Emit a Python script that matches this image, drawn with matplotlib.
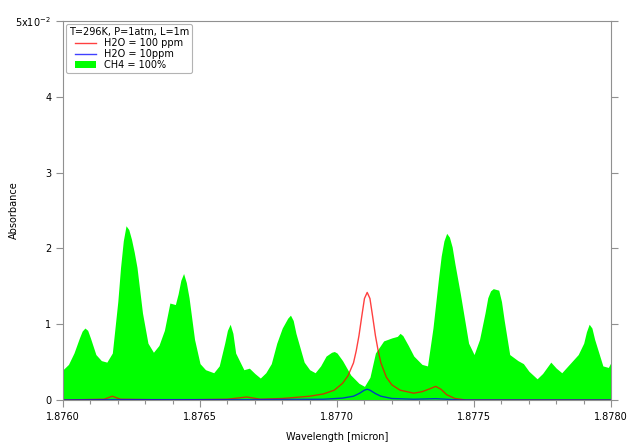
import matplotlib
matplotlib.use("Agg")
import matplotlib.pyplot as plt
from matplotlib.ticker import MultipleLocator

# absorbance values in units of 1e-2
ch4_wl = [1.87600, 1.87602, 1.87604, 1.87606, 1.87607, 1.87608, 1.87609, 1.87610,
          1.87612, 1.87614, 1.87616, 1.87618, 1.87620, 1.87621, 1.87622, 1.87623,
          1.87624, 1.87625, 1.87626, 1.87627, 1.87629, 1.87631, 1.87633, 1.87635,
          1.87637, 1.87639, 1.87641, 1.87642, 1.87643, 1.87644, 1.87645, 1.87646,
          1.87648, 1.87650, 1.87652, 1.87655, 1.87657, 1.87659, 1.87660, 1.87661,
          1.87662, 1.87663, 1.87666, 1.87668, 1.87670, 1.87672, 1.87674, 1.87676,
          1.87678, 1.87680, 1.87682, 1.87683, 1.87684, 1.87685, 1.87688, 1.87690,
          1.87692, 1.87694, 1.87696, 1.87698, 1.87699, 1.87700, 1.87702, 1.87705,
          1.87708, 1.87710, 1.87712, 1.87714, 1.87717, 1.87720, 1.87722, 1.87723,
          1.87724, 1.87726, 1.87728, 1.87731, 1.87733, 1.87735, 1.87737, 1.87738,
          1.87739, 1.87740, 1.87741, 1.87742, 1.87743, 1.87745, 1.87748, 1.87750,
          1.87752, 1.87754, 1.87755, 1.87756, 1.87757, 1.87758, 1.87759, 1.87760,
          1.87761, 1.87763, 1.87766, 1.87768, 1.87770, 1.87773, 1.87775, 1.87777,
          1.87778, 1.87779, 1.87780, 1.87782, 1.87785, 1.87788, 1.87790, 1.87791,
          1.87792, 1.87793, 1.87794, 1.87797, 1.87799, 1.87800]
ch4_abs = [0.40, 0.47, 0.62, 0.82, 0.91, 0.95, 0.92, 0.82,
           0.60, 0.52, 0.50, 0.62, 1.30, 1.75, 2.10, 2.30,
           2.25, 2.12, 1.95, 1.75, 1.15, 0.75, 0.63, 0.72,
           0.92, 1.28, 1.26, 1.40, 1.58, 1.67, 1.55, 1.35,
           0.80, 0.48, 0.40, 0.36, 0.45, 0.75, 0.92, 1.00,
           0.88, 0.62, 0.40, 0.42, 0.35, 0.29, 0.36, 0.48,
           0.75, 0.95, 1.08, 1.12, 1.05, 0.88, 0.50, 0.40,
           0.36, 0.45, 0.58, 0.63, 0.64, 0.62, 0.52, 0.33,
           0.22, 0.18, 0.30, 0.62, 0.78, 0.82, 0.84, 0.88,
           0.85, 0.72, 0.58, 0.47, 0.45, 0.95, 1.60, 1.90,
           2.10, 2.20, 2.15, 2.02, 1.80, 1.40, 0.75, 0.60,
           0.80, 1.15, 1.35, 1.44, 1.47, 1.46, 1.45, 1.30,
           1.05, 0.60, 0.52, 0.48, 0.38, 0.28, 0.35, 0.45,
           0.50, 0.46, 0.42, 0.36, 0.48, 0.60, 0.75, 0.90,
           1.00, 0.95, 0.80, 0.45, 0.43, 0.50]

h2o100_wl = [1.87600, 1.87615, 1.87618, 1.87621, 1.87640, 1.87660, 1.87667, 1.87672,
             1.87680, 1.87690, 1.87695, 1.87699, 1.87702, 1.87704, 1.87706, 1.87707,
             1.87708, 1.87709, 1.87710, 1.87711, 1.87712, 1.87713, 1.87714, 1.87715,
             1.87716, 1.87718, 1.87720, 1.87723, 1.87728, 1.87731, 1.87734, 1.87736,
             1.87738, 1.87740, 1.87743, 1.87747, 1.87800]
h2o100_abs = [0.00, 0.01, 0.05, 0.01, 0.00, 0.01, 0.04, 0.01,
              0.02, 0.05, 0.08, 0.13, 0.22, 0.32, 0.49, 0.65,
              0.85, 1.10, 1.34, 1.42, 1.34, 1.10, 0.85, 0.65,
              0.49, 0.30, 0.20, 0.13, 0.09, 0.11, 0.15, 0.18,
              0.14, 0.07, 0.02, 0.00, 0.00]

h2o10_wl = [1.87600, 1.87618, 1.87667, 1.87695, 1.87702, 1.87706, 1.87708, 1.87710,
            1.87711, 1.87712, 1.87714, 1.87716, 1.87720, 1.87728, 1.87736, 1.87745,
            1.87800]
h2o10_abs = [0.00, 0.005, 0.005, 0.01, 0.025, 0.05, 0.085, 0.13,
             0.142, 0.13, 0.085, 0.05, 0.02, 0.01, 0.018, 0.00,
             0.00]

ytick_labels = ["0", "1", "2", "3", "4", "5x10$^{-2}$"]

fig = plt.figure(figsize=(6.3, 4.42), dpi=100)
ax = fig.add_axes([0.1, 0.095, 0.87, 0.857])

ax.fill_between(ch4_wl, ch4_abs, 0, color="#00ff00", lw=0, label="CH4 = 100%")
ax.plot(h2o100_wl, h2o100_abs, color="#ff0000", alpha=0.75, lw=1.0,
        label="H2O = 100 ppm")
ax.plot(h2o10_wl, h2o10_abs, color="#0000ff", alpha=0.75, lw=1.0,
        label="H2O = 10ppm")

ax.set_xlim(1.876, 1.878)
ax.set_ylim(0, 5)
ax.set_xticks([1.8760, 1.8765, 1.8770, 1.8775, 1.8780])
ax.set_xticklabels(["1.8760", "1.8765", "1.8770", "1.8775", "1.8780"])
ax.xaxis.set_minor_locator(MultipleLocator(0.0001))
ax.set_yticks(range(6))
ax.set_yticklabels(ytick_labels)

for s in ax.spines.values():
    s.set_color("#909090")
    s.set_linewidth(0.8)
ax.tick_params(axis="both", which="both", direction="out", color="#909090",
               labelsize=7, width=0.8)
ax.tick_params(axis="y", right=True, length=5)
ax.tick_params(axis="x", which="major", length=5)
ax.tick_params(axis="x", which="minor", length=3)

ax.set_xlabel("Wavelength [micron]", fontsize=7)
ax.set_ylabel("Absorbance", fontsize=7)
ax.yaxis.set_label_coords(-0.08, 0.5)
ax.xaxis.set_label_coords(0.5, -0.085)

h, l = ax.get_legend_handles_labels()
leg = ax.legend([h[1], h[2], h[0]], [l[1], l[2], l[0]], loc="upper left",
                title="T=296K, P=1atm, L=1m", fontsize=7, title_fontsize=7,
                frameon=True, fancybox=True, edgecolor="#a0a0a0",
                borderpad=0.3, labelspacing=0.1, handlelength=2.2,
                handletextpad=0.8, borderaxespad=0.3, bbox_to_anchor=(0.0, 1.0))
leg.get_frame().set_linewidth(0.8)

fig.savefig("out.png", dpi=100)
